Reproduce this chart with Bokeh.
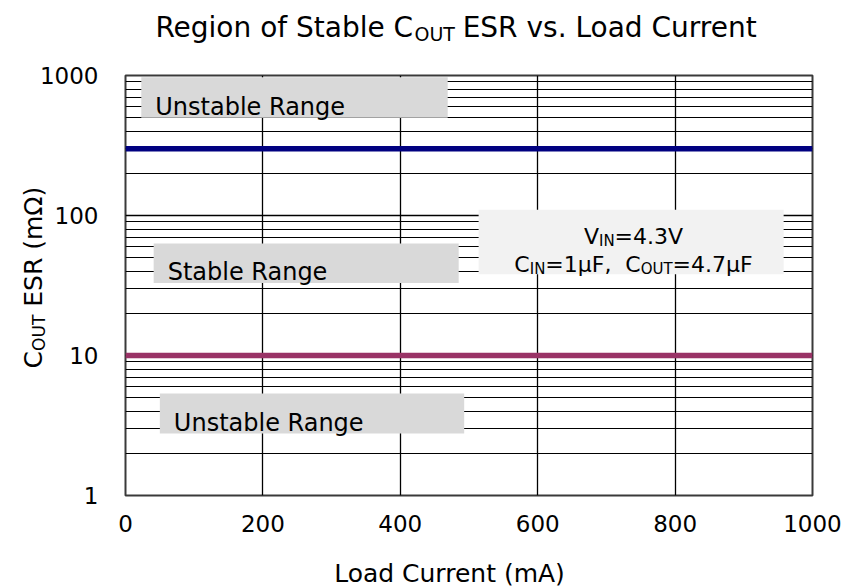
import math
from bokeh.plotting import figure
from bokeh.models import Label, FixedTicker, NumeralTickFormatter, Range1d
from bokeh.embed import file_html
from bokeh.resources import INLINE

# ---------------- data ----------------
load_current = [0, 1000]          # mA
esr_upper_limit = [300, 300]      # mOhm (upper stability boundary)
esr_lower_limit = [10, 10]        # mOhm (lower stability boundary)

x_ticks = [0, 200, 400, 600, 800, 1000]
y_ticks = [1, 10, 100, 1000]

# region label boxes (data coordinates)
box_labels = ["Unstable Range", "Stable Range", "Unstable Range"]
box_left = [23, 41, 50]
box_right = [469, 485, 493]
box_bottom = [500, 33, 2.77]
box_top = [970, 63, 5.35]

info_left = [514]
info_right = [958]
info_bottom = [38]
info_top = [110]

# ---------------- styling helpers ----------------
FONT = "DejaVu Sans"
ADV = {" ": .318, "(": .390, ")": .390, ",": .318, ".": .318, "=": .838,
       "A": .684, "C": .698, "E": .632, "F": .575, "I": .295, "L": .557,
       "N": .748, "O": .787, "R": .695, "S": .635, "T": .611, "U": .732,
       "V": .684, "a": .613, "b": .635, "d": .635, "e": .615, "f": .352,
       "g": .635, "i": .278, "l": .278, "m": .974, "n": .634, "o": .612,
       "r": .411, "s": .521, "t": .392, "u": .634, "v": .592, "µ": .636,
       "Ω": .770, "\u2003": 1.0, "\u2005": .25, "\u2009": .2}
for _d in "0123456789":
    ADV[_d] = .636
GAP = "\u2003\u2005\u2009"   # room (about 1.45 em) kept for a subscript
SUB = 0.68


def tw(s, size):
    return sum(ADV.get(c, 0.6) for c in s) * size


W, H = 846, 587
FL, FR, FT, FB = 125, 812, 75, 495   # frame edges (px)

p = figure(width=W, height=H, output_backend="svg", toolbar_location=None,
           title=None, y_axis_type="log",
           x_range=Range1d(0, 1000), y_range=Range1d(1, 1000),
           min_border_left=FL, min_border_right=W - FR,
           min_border_top=FT, min_border_bottom=H - FB)
p.background_fill_color = "white"
p.border_fill_color = "white"
p.outline_line_color = "#3a3a3a"
p.outline_line_width = 2

# axes
p.xaxis.ticker = FixedTicker(ticks=x_ticks)
p.yaxis.ticker = FixedTicker(ticks=y_ticks,
                             minor_ticks=[m * 10 ** d for d in range(3) for m in range(2, 10)])
p.yaxis.formatter = NumeralTickFormatter(format="0")
for ax in (p.xaxis, p.yaxis):
    ax.axis_line_color = None
    ax.major_tick_line_color = None
    ax.minor_tick_line_color = None
    ax.major_tick_out = 0
    ax.major_tick_in = 0
    ax.minor_tick_out = 0
    ax.minor_tick_in = 0
    ax.major_label_text_font = FONT
    ax.major_label_text_font_size = "23px"
    ax.major_label_text_color = "black"
p.yaxis.major_label_standoff = 27
p.xaxis.major_label_standoff = 19

# grid
p.xgrid.grid_line_color = "black"
p.xgrid.grid_line_width = 1.3
p.ygrid.grid_line_color = "black"
p.ygrid.grid_line_width = 1.3
p.ygrid.minor_grid_line_color = "black"
p.ygrid.minor_grid_line_width = 1.0

# boxes
p.quad(left=box_left, right=box_right, bottom=box_bottom, top=box_top,
       fill_color="#d9d9d9", line_color=None)
p.quad(left=info_left, right=info_right, bottom=info_bottom, top=info_top,
       fill_color="#f2f2f2", line_color=None)

# boundary lines
p.line(load_current, esr_upper_limit, line_color="#000080", line_width=5.5)
p.line(load_current, esr_lower_limit, line_color="#993366", line_width=5.5)


def add_text(s, px, py, size, align="left", angle=0.0, place="center"):
    lab = Label(x=0, y=1, x_units="data", y_units="data",
                x_offset=px - FL, y_offset=FB - py, text=s,
                text_font=FONT, text_font_size=f"{size:.1f}px",
                text_align=align, text_baseline="alphabetic",
                angle=angle, text_color="black")
    p.add_layout(lab, place)


def add_pieces(pieces, cx, py, size, sub_drop=0.22, place="center"):
    widths = [tw(t, size * SUB if sub else size) for t, sub in pieces]
    x = cx - sum(widths) / 2
    for (t, sub), w in zip(pieces, widths):
        if t.strip():
            add_text(t.strip(), x + tw(t[:len(t) - len(t.lstrip())], size), 
                     py + (sub_drop * size if sub else 0),
                     size * SUB if sub else size, place=place)
        x += w


# ---- title: one main label (with room left for the subscript) + subscript
T_SIZE = 28
t_main_a = "Region of Stable C"
t_main = t_main_a + GAP + " ESR vs. Load Current"
t_x0 = 457 - tw(t_main, T_SIZE) / 2
add_text(t_main, t_x0, 27, T_SIZE, place="above")
add_text("OUT", t_x0 + tw(t_main_a, T_SIZE), 27 + 0.24 * T_SIZE,
         T_SIZE * SUB, place="above")

# ---- x axis label
add_text("Load Current (mA)", 449, 573, 25, align="center", place="below")

# ---- y axis label (rotated), subscript kept in the right-hand panel
Y_SIZE = 25
y_main = "C" + GAP + " ESR (mΩ)"
y_start = 277 + tw(y_main, Y_SIZE) / 2
add_text(y_main, 33, y_start, Y_SIZE, angle=math.pi / 2, place="left")
add_text("OUT", 33 + 0.22 * Y_SIZE, y_start - tw("C", Y_SIZE), Y_SIZE * SUB,
         angle=math.pi / 2, place="right")

# ---- box labels
for lbl, bl, bb in zip(box_labels, box_left, box_bottom):
    p.add_layout(Label(x=bl, y=bb, x_offset=14, y_offset=11, text=lbl,
                       text_font=FONT, text_font_size="24px",
                       text_baseline="alphabetic", text_color="black"))

# ---- info box text
add_pieces([("V", False), ("IN", True), ("=4.3V", False)], 633, 236, 22)
add_pieces([("C", False), ("IN", True), ("=1µF,", False), ("  C", False),
            ("OUT", True), ("=4.7µF", False)], 633, 264, 22)

open("out.html", "w").write(file_html(p, INLINE))
